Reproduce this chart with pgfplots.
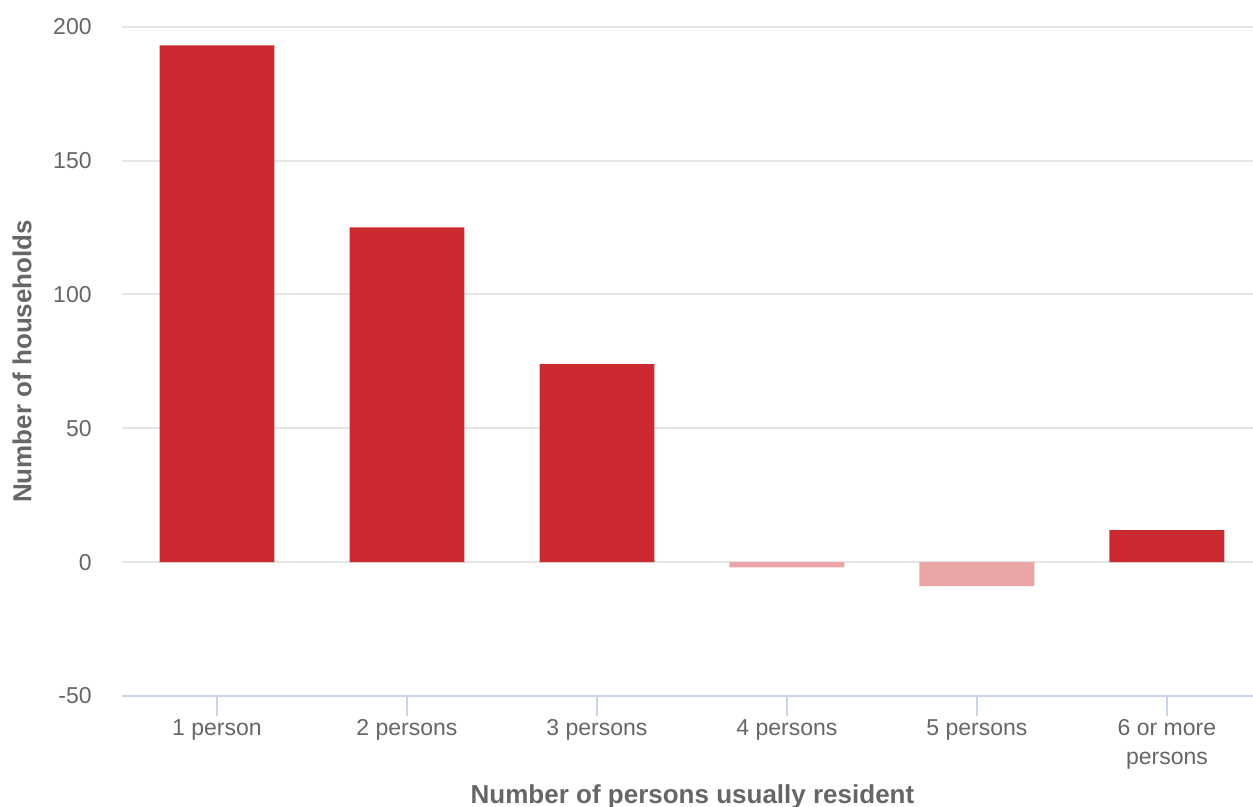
\documentclass[border=0pt]{standalone}
\usepackage{pgfplots}
\pgfplotsset{compat=1.18}
\usepackage{fontspec}
\setmainfont{Liberation Sans}
\definecolor{barred}{HTML}{CB2B30}
\definecolor{barpink}{HTML}{EAA6A7}
\definecolor{gridc}{HTML}{E6E6E6}
\definecolor{axisc}{HTML}{CCD6EB}
\definecolor{txt}{HTML}{666666}
\pgfplotstableread{
x y
0 193
1 125
2 74
5 12
}\pos
\pgfplotstableread{
x y
3 -2
4 -9
}\negs
\begin{document}
\begin{tikzpicture}
\begin{axis}[
  at={(61pt,55.5pt)}, anchor=south west,
  scale only axis, width=565.5pt, height=334.65pt,
  xmin=-0.5, xmax=5.453, ymin=-50, ymax=200,
  ybar, bar shift=0pt, bar width=0.605,
  axis x line*=bottom, axis y line*=left,
  x axis line style={axisc, line width=1pt, -},
  y axis line style={draw=none},
  xtick={0,1,2,3,4,5},
  xticklabels={1 person, 2 persons, 3 persons, 4 persons, 5 persons, {6 or more\\persons}},
  ytick={-50,0,50,100,150,200},
  /pgf/number format/assume math mode=true,
  tick align=outside,
  major tick length=10pt,
  xtick style={axisc, line width=1pt},
  ytick style={draw=none},
  ymajorgrids, major grid style={gridc, line width=1pt},
  xticklabel style={anchor=north, inner sep=0pt, yshift=-1.5pt, align=center, font=\fontsize{11.5}{14.5}\selectfont, text=txt},
  yticklabel style={anchor=east, inner sep=0pt, xshift=-5pt, font=\fontsize{11.5}{14}\selectfont, text=txt},
  xlabel={Number of persons usually resident},
  ylabel={Number of households},
  every axis x label/.style={at={([xshift=2.5pt,yshift=-54pt]rel axis cs:0.5,0)}, anchor=base, font=\bfseries\fontsize{13}{15}\selectfont, text=txt},
  every axis y label/.style={at={([xshift=-50pt]rel axis cs:0,0.5)}, rotate=90, anchor=center, font=\bfseries\fontsize{13}{15}\selectfont, text=txt},
]
\addplot[fill=barred, draw=none] table[x=x,y=y] {\pos};
\addplot[fill=barpink, draw=none] table[x=x,y=y] {\negs};
\end{axis}
\pgfresetboundingbox
\path (0,0) rectangle (626.5pt,403.5pt);
\end{tikzpicture}
\end{document}
